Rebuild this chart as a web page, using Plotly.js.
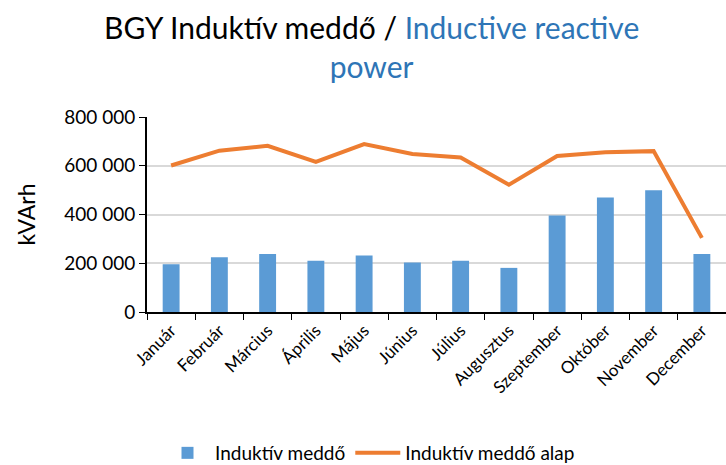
<!DOCTYPE html>
<html>
<head>
<meta charset="utf-8">
<script src="https://cdn.plot.ly/plotly-3.0.1.min.js"></script>
<style>html,body{margin:0;padding:0;background:#fff;}#chart{width:726px;height:465px;}</style>
</head>
<body>
<div id="chart"></div>
<script>
const months = ["Január","Február","Március","Április","Május","Június","Július","Augusztus","Szeptember","Október","November","December"];
const barName = "Induktív meddő";
const lineName = "Induktív meddő alap";
const barValues = [196000, 225000, 238000, 210000, 232000, 203000, 210000, 181000, 396000, 470000, 500000, 238000];
const lineValues = [601000, 662000, 682000, 616000, 689000, 648000, 634000, 522000, 640000, 655000, 660000, 304000];
const yTicks = [0, 200000, 400000, 600000, 800000];
const titleText = "BGY Induktív meddő / <span style='color:#2E75B6'>Inductive reactive</span><br><span style='color:#2E75B6'>power</span>";

const fontFam = "Lato, 'Liberation Sans', sans-serif";
const data = [
  {type:'bar', x:months, y:barValues, name:barName, marker:{color:'#5B9BD5'}, width:0.35},
  {type:'scatter', mode:'lines', x:months, y:lineValues, name:lineName, line:{color:'#ED7D31', width:4}}
];
const layout = {
  width:726, height:465,
  margin:{l:147, r:0, t:117, b:153},
  separators: ". ",
  font:{family:fontFam, color:'#000', size:16},
  annotations:[{
    text:titleText, showarrow:false,
    xref:'paper', yref:'paper', x:(371-147)/579, y:(312-7)/195,
    xanchor:'center', yanchor:'top', align:'center',
    font:{size:30, family:fontFam, color:'#000'}
  }],
  xaxis:{
    type:'category', tickangle:-45, tickfont:{size:17}, automargin:false,
    showline:true, linecolor:'#000', linewidth:2,
    ticks:'outside', tickson:'boundaries', ticklen:6, tickcolor:'#000',
    showgrid:false
  },
  yaxis:{
    range:[0,800000], tickvals:yTicks, tickformat:',d', automargin:false,
    tickfont:{size:19},
    showline:true, linecolor:'#000', linewidth:2,
    ticks:'outside', ticklen:6, tickcolor:'#000',
    gridcolor:'#D9D9D9', gridwidth:1.5, zeroline:false,
    title:{text:'kVArh', font:{size:23}, standoff:22}
  },
  showlegend:true,
  legend:{orientation:'h', xref:'container', yref:'container', x:370/726, xanchor:'center', y:1-453/465, yanchor:'middle', font:{size:19}, itemwidth:45, traceorder:'normal'},
  plot_bgcolor:'#fff', paper_bgcolor:'#fff'
};
Plotly.newPlot('chart', data, layout, {displayModeBar:false});
</script>
</body>
</html>
